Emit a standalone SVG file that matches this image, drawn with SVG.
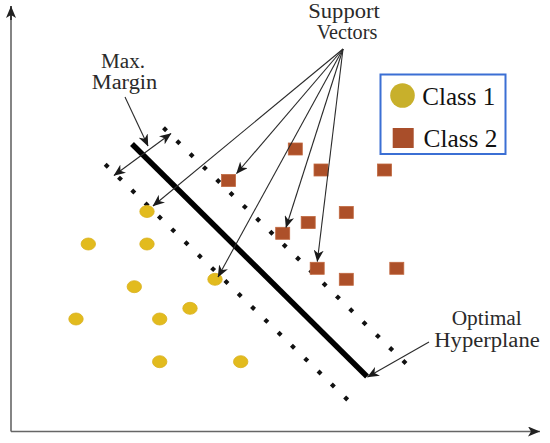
<svg xmlns="http://www.w3.org/2000/svg" width="550" height="443" viewBox="0 0 550 443">
<style>
.lbl{font-family:"Liberation Serif","Times New Roman",serif;font-size:20px;fill:#2a2a2a;text-anchor:middle}
.leg{font-family:"Liberation Serif","Times New Roman",serif;font-size:26px;fill:#111}
.ptr{stroke:#2a2a2a;stroke-width:1.1;fill:none}
.axis{stroke:#666;stroke-width:1.6;fill:none}
.dots{stroke:#111;stroke-width:4.2;stroke-dasharray:4.2 14.35;fill:none}
.c1{fill:#e2bb1e;stroke:#d9b01c;stroke-width:0.8}
.c2{fill:#ad5029;stroke:#c0683f;stroke-width:0.8}
</style>
<defs>
<marker id="ah" viewBox="0 0 12 10" refX="11.5" refY="5" markerWidth="12" markerHeight="10" markerUnits="userSpaceOnUse" orient="auto-start-reverse">
<path d="M0,0 L12,5 L0,10 L3.5,5 z" fill="#1a1a1a"/>
</marker>
<marker id="axh" viewBox="0 0 12 10" refX="12" refY="5" markerWidth="12" markerHeight="10" markerUnits="userSpaceOnUse" orient="auto">
<path d="M0,0 L12,5 L0,10 L3,5 z" fill="#222"/>
</marker>
</defs>
<rect width="550" height="443" fill="#fff"/>

<g id="axes">
<polyline class="axis" points="11,431.5 11,8"/>
<line x1="11" y1="431.5" x2="540" y2="431.5" class="axis" marker-end="url(#axh)"/>
<line x1="11" y1="20" x2="11" y2="6" stroke="#222" stroke-width="1.6" marker-end="url(#axh)"/>
</g>

<g id="margin-lines">
<line class="dots" x1="163.5" y1="127.85" x2="406" y2="363.5"/>
<line class="dots" x1="105.2" y1="164.25" x2="347.7" y2="399.9"/>
</g>

<g id="hyperplane">
<line x1="132" y1="144" x2="367" y2="376.5" stroke="#000" stroke-width="5.5" stroke-linecap="butt"/>
</g>

<g id="class1-points">
<ellipse class="c1" cx="147" cy="211.5" rx="7.2" ry="6"/>
<ellipse class="c1" cx="88.3" cy="244" rx="7.2" ry="6"/>
<ellipse class="c1" cx="147" cy="244" rx="7.2" ry="6"/>
<ellipse class="c1" cx="134.3" cy="286.7" rx="7.2" ry="6"/>
<ellipse class="c1" cx="215" cy="279.3" rx="7.2" ry="6"/>
<ellipse class="c1" cx="190" cy="308.3" rx="7.2" ry="6"/>
<ellipse class="c1" cx="76" cy="319" rx="7.2" ry="6"/>
<ellipse class="c1" cx="159.7" cy="319" rx="7.2" ry="6"/>
<ellipse class="c1" cx="159.7" cy="361.7" rx="7.2" ry="6"/>
<ellipse class="c1" cx="240.7" cy="361.7" rx="7.2" ry="6"/>
</g>

<g id="class2-points">
<rect class="c2" x="221.5" y="174.5" width="14" height="12"/>
<rect class="c2" x="288.3" y="143" width="14" height="12"/>
<rect class="c2" x="314" y="164" width="14" height="12"/>
<rect class="c2" x="377.5" y="164" width="14" height="12"/>
<rect class="c2" x="339.3" y="206.5" width="14" height="12"/>
<rect class="c2" x="301.2" y="216.5" width="14" height="12"/>
<rect class="c2" x="275.7" y="227.3" width="14" height="12"/>
<rect class="c2" x="310.2" y="262.3" width="14" height="12"/>
<rect class="c2" x="339.3" y="273.3" width="14" height="12"/>
<rect class="c2" x="389.8" y="262.3" width="14" height="12"/>
</g>

<g id="connectors">
<line class="ptr" x1="114" y1="175.5" x2="171" y2="133.5" marker-start="url(#ah)" marker-end="url(#ah)"/>
<line class="ptr" x1="125" y1="97" x2="148" y2="146" marker-end="url(#ah)"/>
<line class="ptr" x1="343" y1="49" x2="153" y2="206" marker-end="url(#ah)"/>
<line class="ptr" x1="343" y1="49" x2="236.5" y2="173.5" marker-end="url(#ah)"/>
<line class="ptr" x1="343" y1="49" x2="218" y2="277" marker-end="url(#ah)"/>
<line class="ptr" x1="343" y1="49" x2="286" y2="227.5" marker-end="url(#ah)"/>
<line class="ptr" x1="343" y1="49" x2="317.3" y2="261.5" marker-end="url(#ah)"/>
<line class="ptr" x1="429" y1="342" x2="367.5" y2="377" marker-end="url(#ah)"/>
</g>

<g id="label-max-margin">
<text class="lbl" x="123" y="67.5" textLength="44" lengthAdjust="spacingAndGlyphs">Max.</text>
<text class="lbl" x="124.5" y="88.5" textLength="65.5" lengthAdjust="spacingAndGlyphs">Margin</text>
</g>

<g id="label-support-vectors">
<text class="lbl" x="344" y="17.5" textLength="71.5" lengthAdjust="spacingAndGlyphs">Support</text>
<text class="lbl" x="347" y="38.5" textLength="60.5" lengthAdjust="spacingAndGlyphs">Vectors</text>
</g>

<g id="label-optimal-hyperplane">
<text class="lbl" x="486.7" y="324.5" textLength="70" lengthAdjust="spacingAndGlyphs">Optimal</text>
<text class="lbl" x="487" y="346.5" textLength="105.5" lengthAdjust="spacingAndGlyphs">Hyperplane</text>
</g>

<g id="legend">
<rect x="380.5" y="74.5" width="125" height="79.5" fill="#fff" stroke="#3b6fd4" stroke-width="2"/>
<circle cx="402.5" cy="95.5" r="12.3" fill="#c8b02b"/>
<rect x="392.7" y="128" width="21" height="20" fill="#a94e2a"/>
<text class="leg" x="422.3" y="104.5" textLength="73" lengthAdjust="spacingAndGlyphs">Class 1</text>
<text class="leg" x="423.5" y="146.5" textLength="74" lengthAdjust="spacingAndGlyphs">Class 2</text>
</g>
</svg>
